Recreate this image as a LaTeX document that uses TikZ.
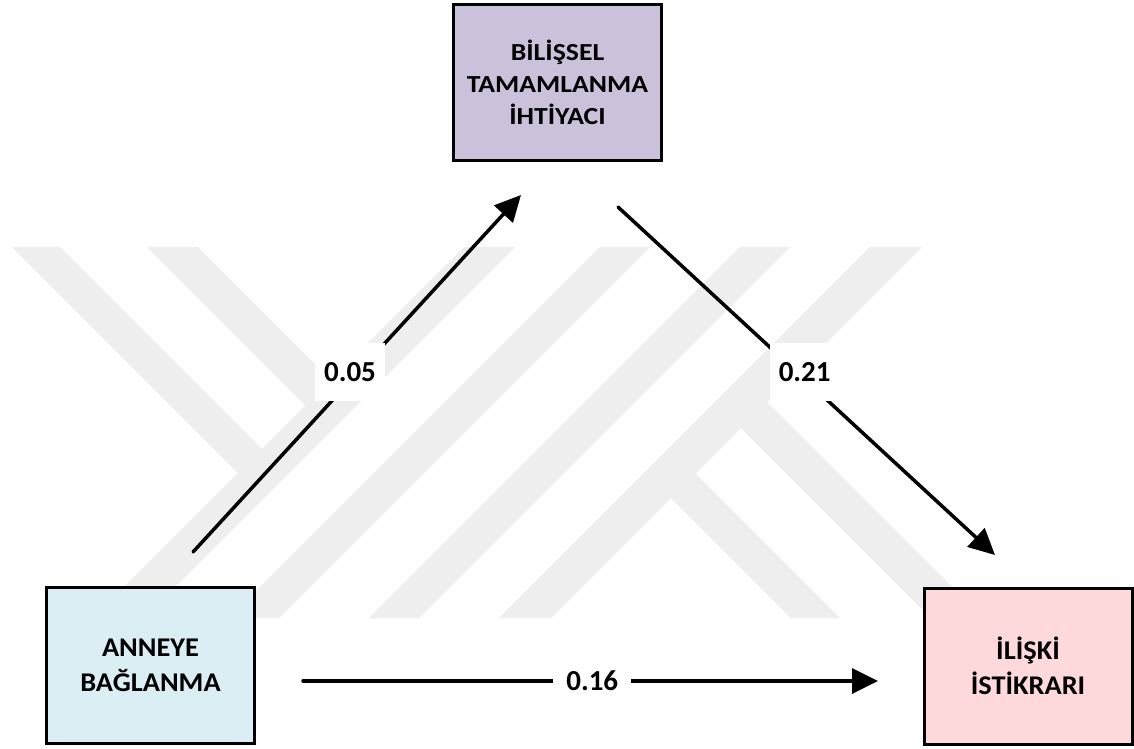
\documentclass[tikz,border=0pt]{standalone}
\usepackage{fontspec}
\setmainfont{Carlito}
\newfontfamily\topfont[FakeStretch=1.13]{Carlito}
\newfontfamily\botfont[FakeStretch=1.05]{Carlito}
\usetikzlibrary{arrows.meta}
\definecolor{wm}{RGB}{238,238,238}
\definecolor{lav}{HTML}{CCC1DA}
\definecolor{lblue}{HTML}{DBEEF4}
\definecolor{lpink}{HTML}{FDD9DB}
\begin{document}
\begin{tikzpicture}[x=1pt,y=-1pt,
  box/.style={draw=black,line width=3pt,inner sep=0pt,align=center,minimum width=208pt,minimum height=156pt},
  topbox/.style={box,fill=lav,font=\topfont\bfseries\fontsize{24.5}{32}\selectfont},
  botbox/.style={box,fill=#1,font=\botfont\bfseries\fontsize{27}{35}\selectfont},
  conn/.style={line width=3.5pt,line cap=round,-{Triangle[length=26pt,width=25pt]}},
  lbl/.style={fill=white,inner sep=0pt,minimum width=70pt,minimum height=58pt,font=\bfseries\fontsize{29}{35}\selectfont},
  wmark/.style={fill=wm,draw=none}]
\useasboundingbox (0,0) rectangle (1134,748);
\fill[white] (0,0) rectangle (1134,748);
% watermark
\fill[wmark] (464,247) -- (515,247) -- (144,618) -- (93,618) -- cycle;
\fill[wmark] (600,247) -- (650,247) -- (279,618) -- (229,618) -- cycle;
\fill[wmark] (740,247) -- (790,247) -- (419,618) -- (369,618) -- cycle;
\fill[wmark] (870,247) -- (922,247) -- (551,618) -- (499,618) -- cycle;
\fill[wmark] (12,247) -- (60,247) -- (271.5,458.5) -- (247.5,482.5) -- cycle;
\fill[wmark] (147,247) -- (198,247) -- (340.5,389.5) -- (315,415) -- cycle;
\fill[wmark] (661.5,488.5) -- (686,464) -- (840,618) -- (791,618) -- cycle;
\fill[wmark] (731.5,418.5) -- (757.5,392.5) -- (983,618) -- (931,618) -- cycle;
% boxes
\node[topbox] (bct) at (557.5,82.5) {BİLİŞSEL\\TAMAMLANMA\\İHTİYACI};
\node[botbox=lblue] (ab) at (150.5,665.5) {ANNEYE\\BAĞLANMA};
\node[botbox=lpink] (ii) at (1028,666) {İLİŞKİ\\İSTİKRARI};
% connector ends
\coordinate (a1) at (193,552);
\coordinate (a2) at (521,195);
\coordinate (b1) at (618,207);
\coordinate (b2) at (995,555);
\coordinate (c1) at (303,681);
\coordinate (c2) at (878,681);
\draw[conn] (a1) -- node[lbl,pos=0.503,xshift=-8pt] (l1) {0.05} (a2);
\draw[conn] (b1) -- node[lbl,pos=0.474,xshift=8pt] (l2) {0.21} (b2);
\draw[conn] (c1) -- node[lbl,pos=0.503,minimum width=78pt,minimum height=40pt] (l3) {0.16} (c2);
\end{tikzpicture}
\end{document}
